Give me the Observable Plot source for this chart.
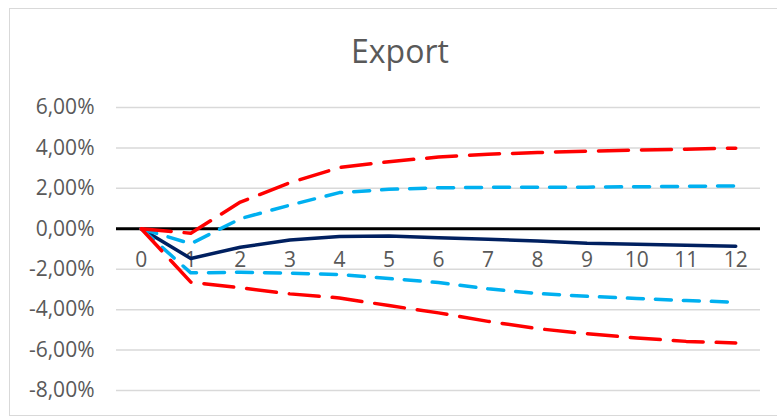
<!DOCTYPE html>
<html>
<head>
<meta charset="utf-8">
<script src="https://cdn.jsdelivr.net/npm/d3@7"></script>
<script src="https://cdn.jsdelivr.net/npm/@observablehq/plot@0.6"></script>
<style>
  html, body { margin: 0; padding: 0; background: #fff; overflow: hidden; }
  #wrap { position: relative; width: 777px; height: 419px; overflow: hidden; }
  #border { position: absolute; left: 9px; top: 8px; width: 800px; height: 408px; border: 1.5px solid #d9d9d9; box-sizing: border-box; }
  #title { position: relative; width: 800px; height: 80px; box-sizing: border-box; padding-top: 30px; line-height: 42px; text-align: center; font-family: 'Open Sans', sans-serif; font-size: 32px; color: #595959; }
  #chart { position: relative; }
</style>
</head>
<body>
<div id="wrap">
  <div id="border"></div>
  <div id="title">Export</div>
  <div id="chart"></div>
</div>
<script>
const horizon = [0, 1, 2, 3, 4, 5, 6, 7, 8, 9, 10, 11, 12];
const meanResp = [0, -1.47, -0.91, -0.56, -0.38, -0.36, -0.44, -0.52, -0.61, -0.72, -0.77, -0.81, -0.86];
const upperInner = [0, -0.74, 0.5, 1.17, 1.79, 1.95, 2.03, 2.05, 2.06, 2.06, 2.08, 2.1, 2.12];
const lowerInner = [0, -2.18, -2.15, -2.2, -2.26, -2.46, -2.66, -2.97, -3.2, -3.34, -3.45, -3.55, -3.63];
const upperOuter = [0, -0.22, 1.32, 2.28, 3.03, 3.32, 3.55, 3.69, 3.77, 3.84, 3.89, 3.94, 3.99];
const lowerOuter = [0, -2.64, -2.92, -3.22, -3.42, -3.8, -4.16, -4.58, -4.94, -5.19, -5.4, -5.57, -5.65];
const yTicks = [-8, -6, -4, -2, 0, 2, 4, 6];
const xTicks = horizon;

const toRows = (vals) => horizon.map((h, i) => ({h, v: vals[i]}));
const fmt = d => d.toFixed(2).replace(".", ",") + "%";

const chart = Plot.plot({
  width: 777,
  height: 339,
  marginTop: 27,
  marginBottom: 29,
  marginLeft: 116,
  marginRight: 17,
  style: {fontFamily: "'Open Sans', sans-serif", color: "#595959", background: "transparent", overflow: "visible"},
  x: {type: "linear", domain: [-0.5, 12.5], axis: null},
  y: {domain: [-8, 6], axis: null},
  marks: [
    Plot.gridY(yTicks, {stroke: "#d9d9d9", strokeOpacity: 1, strokeWidth: 1.5}),
    Plot.axisY(yTicks, {tickSize: 0, tickPadding: 22, tickFormat: fmt, fontSize: 21, fill: "#595959", label: null}),
    Plot.ruleY([0], {stroke: "black", strokeWidth: 3}),
    Plot.text(xTicks, {x: d => d, y: 0, dy: 31, text: d => String(d), fontSize: 21, fill: "#595959"}),
    Plot.line(toRows(meanResp), {x: "h", y: "v", stroke: "#002060", strokeWidth: 3.5}),
    Plot.line(toRows(upperInner), {x: "h", y: "v", stroke: "#00B0F0", strokeWidth: 3.5, strokeDasharray: "16,12"}),
    Plot.line(toRows(lowerInner), {x: "h", y: "v", stroke: "#00B0F0", strokeWidth: 3.5, strokeDasharray: "16,12"}),
    Plot.line(toRows(upperOuter), {x: "h", y: "v", stroke: "#FF0000", strokeWidth: 3.5, strokeDasharray: "30,13"}),
    Plot.line(toRows(lowerOuter), {x: "h", y: "v", stroke: "#FF0000", strokeWidth: 3.5, strokeDasharray: "30,13"})
  ]
});
document.getElementById("chart").appendChild(chart);
</script>
</body>
</html>
